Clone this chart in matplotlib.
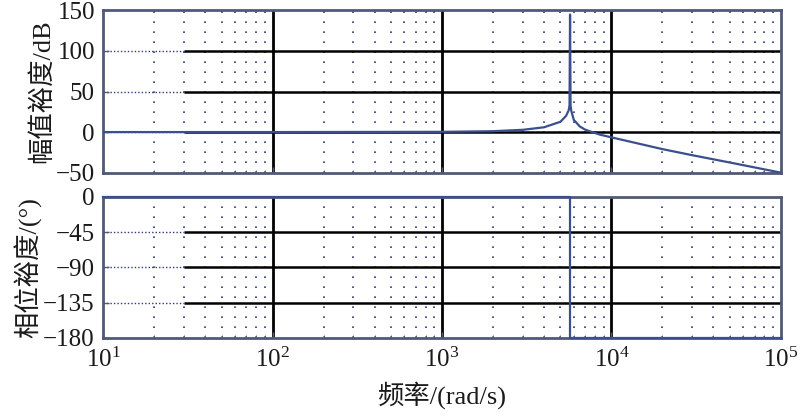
import numpy as np
import matplotlib
matplotlib.use("Agg")
import matplotlib.pyplot as plt
from matplotlib.ticker import LogLocator, FixedLocator, NullFormatter

plt.rcParams['font.family'] = ['Liberation Serif', 'Noto Sans CJK SC']
plt.rcParams['mathtext.fontset'] = 'custom'
plt.rcParams['mathtext.rm'] = 'Liberation Serif'
plt.rcParams['mathtext.it'] = 'Liberation Serif:italic'

# ---- data ----
mag_freq = [10, 100, 1000, 2000, 3000, 4000, 5000, 5400, 5600, 5660, 5700,
            5740, 5800, 6000, 6500, 7000, 7700, 8500, 10000, 20000, 30000,
            50000, 100000]
mag_db = [0, 0, 0.3, 1.1, 2.8, 5.9, 12.7, 20, 27, 33, 145,
          33, 26, 15, 7, 3, 0, -3, -6.5, -21, -28.5,
          -37.5, -50]
phase_freq = [10, 5700, 5700, 100000]
phase_deg = [0, 0, -180, -180]

mag_ticks = [-50, 0, 50, 100, 150]
phase_ticks = [-180, -135, -90, -45, 0]

mag_label = "幅值裕度/dB"
phase_label = "相位裕度/(°)"
x_label = "频率/(rad/s)"

line_color = "#3b4f8e"
grid_color = "#2c3a78"
frame_color = "#505a78"
text_color = "#1a1a1a"

fig = plt.figure(figsize=(8, 4.16), dpi=100)
ax1 = fig.add_axes([0.129, 0.585, 0.847, 0.390])
ax2 = fig.add_axes([0.129, 0.188, 0.847, 0.339])

def style(ax, yticks, solid_from=30):
    ax.set_xscale('log')
    ax.set_xlim(10, 1e5)
    ax.set_ylim(yticks[0], yticks[-1])
    ax.yaxis.set_major_locator(FixedLocator(yticks))
    ax.xaxis.set_minor_locator(LogLocator(base=10, subs=np.arange(2, 10)))
    ax.xaxis.set_minor_formatter(NullFormatter())
    # vertical grid
    for d in [100, 1000, 10000]:
        ax.axvline(d, color='black', lw=2.0, zorder=1)
    for dec in [10, 100, 1000, 10000]:
        for s in range(2, 10):
            ax.axvline(dec * s, color=grid_color, lw=1.2, ls=(0, (1, 5)), zorder=1)
    # horizontal grid
    for yv in yticks[1:-1]:
        ax.hlines(yv, solid_from, 1e5, color='black', lw=1.8, zorder=1)
        ax.hlines(yv, 10, solid_from, color=grid_color, lw=1.0, ls=(0, (1, 1.5)), zorder=1)
    ax.tick_params(axis='both', which='both', direction='in', colors=frame_color,
                   labelcolor=text_color, labelsize=18)
    ax.tick_params(axis='both', which='major', length=4, width=1)
    ax.tick_params(axis='x', which='minor', length=2)
    ax.tick_params(axis='y', pad=6)
    for sp in ax.spines.values():
        sp.set_color(frame_color)
        sp.set_linewidth(2.0)

style(ax1, mag_ticks)
style(ax2, phase_ticks)

ax1.plot(mag_freq, mag_db, color=line_color, lw=1.6, zorder=3)
ax2.plot(phase_freq, phase_deg, color=line_color, lw=1.6, zorder=3, clip_on=False)

ax1.tick_params(axis='x', labelbottom=False)
ax1.set_ylabel(mag_label, fontsize=19, color=text_color, labelpad=1)
ax2.set_ylabel(phase_label, fontsize=19, color=text_color, labelpad=1)
ax2.set_xlabel(x_label, fontsize=19, color=text_color, labelpad=7)
ax2.tick_params(axis='x', pad=7)

fig.savefig("out.png", dpi=100)
